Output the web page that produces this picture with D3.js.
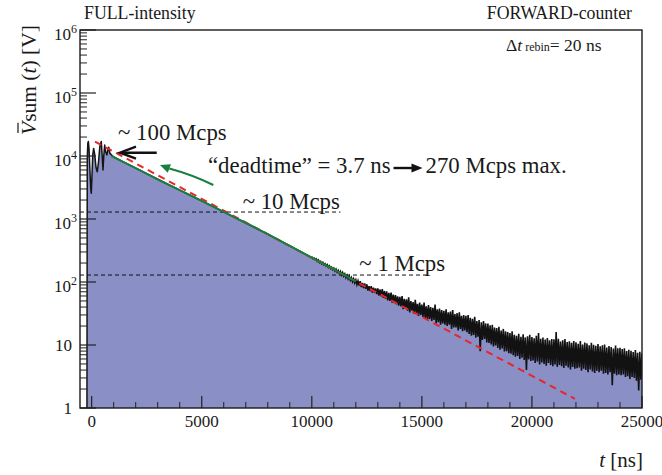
<!DOCTYPE html>
<html><head><meta charset="utf-8">
<script src="https://cdn.jsdelivr.net/npm/d3@7"></script>
<style>
body{margin:0;background:#fff}
svg{display:block}
svg text{font-family:'Liberation Serif',serif;fill:#1a1a1a}
</style>
</head><body>
<svg id="c" width="662" height="475" font-family="'Liberation Serif', serif"></svg>
<script>
// ---------------- data ----------------
// prompt peak / ringing region (t in ns, V)
const peakT = [-215, -200, -175, -150, -120, -80, -40, -18, 10, 50, 91, 140, 200, 255, 310, 370, 436, 475, 514, 550, 591, 640, 695, 735, 773, 830];
const peakV = [1, 9000, 16000, 17000, 13000, 6000, 3000, 2570, 4500, 10500, 13200, 10500, 6500, 5640, 8000, 14000, 17000, 10500, 6000, 10000, 14900, 11500, 10400, 12500, 13800, 11000];
// smooth decay region
const decayT = [900, 1000, 1500, 2000, 2500, 3000, 3500, 4000, 4500, 5000, 5500, 6000, 6500, 7000, 7500, 8000, 8500, 9000, 9500, 10000];
const decayV = [10000, 9640, 7870, 6410, 5240, 4270, 3500, 2870, 2360, 1940, 1590, 1300, 1060, 865, 705, 576, 464, 374, 302, 243];
// noisy tail: bins from 10000 ns every 100 ns, upper / lower envelope
const tailStart = 10000, tailStep = 100;
const tailHi = [
 252,240,233,224,213,205,196,189,180,172,
 166,160,153,147,141,134,128,124,117,112,
 108,104,103,97,95,92,86,86,81,79,
 79,76,77,72,71,67,68,63,62,59,
 58,60,54,53,57,50,48,52,45,47,
 44,47,41,43,40,39,44,37,38,36,
 35,37,33,34,36,31,32,33,29,30,
 29,30,27,26,28,24,25,23,24,22,
 22,20.5,21,19,18.5,19.5,17,18,16.5,16,
 15.5,16.5,14.5,14,15,13.5,14.8,13.2,13.8,14.5,
 13.4,12.8,14,15.5,12.6,13.1,12.2,12.9,11.9,12.4,
 12.3,16,12.5,11.4,11.9,12.4,11.1,11.5,10.8,11.6,
 11.0,10.5,11.6,10.2,10.9,10.6,9.9,10.8,10.1,9.7,
 10.4,9.5,9.9,10.2,9.1,9.6,9.3,8.8,9.8,8.9,
 9.0,8.6,8.9,8.0,8.4,8.1,7.7,8.3,7.5,7.8,
 7.4];
const tailLo = [
 235,226,214,204,195,187,180,171,164,157,
 150,143,136,129,124,117,112,107,101,97,
 91,88,83,80,78,73,72,68,67,64,
 61,59,56,54,51,50,47,46,44,42,
 41,37,38,35,33,35,31,32,29,30,
 28,27,25,26,24,25,22,23,21,22,
 21,20,21,18,19,19,17,18,16.5,17,
 16,15,14,14.5,13,13.5,8,12,12.5,11,
 10.8,10.2,9.5,9.8,9.0,8.4,8.8,7.9,8.0,7.4,
 7.3,6.9,6.5,6.7,6.0,6.3,5.8,4.0,5.9,5.6,
 5.7,5.2,5.5,4.9,5.3,5.0,4.7,5.2,4.8,4.6,
 4.9,4.5,4.8,4.6,4.3,4.7,4.4,4.1,4.5,4.2,
 4.3,4.4,3.9,4.2,4.0,3.7,4.1,3.8,3.6,3.9,
 3.7,3.9,3.5,3.6,3.4,3.7,2.3,3.5,3.3,3.4,
 3.3,3.4,3.1,3.2,2.9,3.1,3.0,2.7,1.9,2.8,
 2.6];
// exponential (red dashed) reference line
const fitT = [150, 21950];
const fitV = [16900, 1.4];
// deadtime-corrected fit (green)
const greenT = [900, 1500, 2000, 3000, 4000, 5000, 6000, 7000, 8000, 9000, 10000, 11000, 12000];
const greenV = [10000, 7870, 6410, 4270, 2870, 1940, 1300, 865, 576, 374, 243, 158, 102];
// rate levels (dashed black)
const rateV = [1290, 129];
const rateEndT = [11300, 15250];
const rateLabel = ["~ 10 Mcps", "~ 1 Mcps"];
const rateLabelT = [6860, 12160];
// axis ticks
const xTickValues = [0, 5000, 10000, 15000, 20000, 25000];
const xTickLabels = ["0", "5000", "10000", "15000", "20000", "25000"];
const yTickValues = [1, 10, 100, 1000, 10000, 100000, 1000000];
const yTickBase = ["1", "10", "10", "10", "10", "10", "10"];
const yTickExp = ["", "", "2", "3", "4", "5", "6"];

// ---------------- layout ----------------
const svg = d3.select("#c");
const x = d3.scaleLinear().domain([-530, 25000]).range([80, 642]);
const y = d3.scaleLog().domain([1, 1e6]).range([408, 30]);
const fillCol = "#8a8fc6", redCol = "#e8262a", greenCol = "#17803f";
const FF = "'Liberation Serif', serif";

svg.append("defs").append("clipPath").attr("id", "clip")
  .append("rect").attr("x", 80).attr("y", 30).attr("width", 562).attr("height", 378);
const plot = svg.append("g").attr("clip-path", "url(#clip)");

const mainPts = peakT.map((t, i) => [t, peakV[i]]).concat(decayT.slice(1).map((t, i) => [t, decayV[i + 1]]));
const tailPts = tailHi.map((h, i) => ({t: tailStart + i * tailStep, hi: h, lo: tailLo[i]}));
const fillPts = mainPts.concat(tailPts.slice(1).map(d => [d.t, Math.sqrt(d.hi * d.lo)]));

// blue fill
plot.append("path").datum(fillPts)
  .attr("d", d3.area().x(d => x(d[0])).y0(y(1)).y1(d => y(d[1])))
  .attr("fill", fillCol);

// rate level dashed lines
rateV.forEach((v, i) => {
  plot.append("line").attr("x1", x(-530)).attr("x2", x(rateEndT[i]))
    .attr("y1", y(v)).attr("y2", y(v))
    .attr("stroke", "#111").attr("stroke-width", 1).attr("stroke-dasharray", "4,3");
});

// histogram outline (prompt + decay)
plot.append("path").datum(mainPts)
  .attr("d", d3.line().x(d => x(d[0])).y(d => y(d[1])))
  .attr("fill", "none").attr("stroke", "#151515").attr("stroke-width", 1.5).attr("stroke-linejoin", "round");

// noisy tail: zig-zag between the per-bin maxima and minima
const zig = [];
tailPts.forEach(d => { zig.push([d.t, d.hi]); zig.push([d.t + tailStep / 2, d.lo]); });
plot.append("path").datum(zig)
  .attr("d", d3.line().x(d => x(d[0])).y(d => y(d[1])))
  .attr("fill", "none").attr("stroke", "#121212").attr("stroke-width", 1.6);

// red dashed exponential
plot.append("path").datum(fitT.map((t, i) => [t, fitV[i]]))
  .attr("d", d3.line().x(d => x(d[0])).y(d => y(d[1])))
  .attr("fill", "none").attr("stroke", redCol).attr("stroke-width", 2).attr("stroke-dasharray", "7,5");

// green fit
plot.append("path").datum(greenT.map((t, i) => [t, greenV[i]]))
  .attr("d", d3.line().curve(d3.curveMonotoneX).x(d => x(d[0])).y(d => y(d[1])))
  .attr("fill", "none").attr("stroke", greenCol).attr("stroke-width", 2);

// ---------------- axes ----------------
const yMinor = [];
for (let d = 1; d < 1e6; d *= 10) for (let m = 2; m <= 9; m++) yMinor.push(d * m);
const xMinor = d3.range(0, 25001, 1000).filter(v => v % 5000 !== 0);

const axG = svg.append("g").attr("stroke", "#222");
axG.selectAll("line.ymn").data(yMinor).join("line")
  .attr("x1", 80).attr("x2", 87).attr("y1", d => y(d)).attr("y2", d => y(d)).attr("stroke-width", 1);
axG.selectAll("line.ymj").data(yTickValues).join("line")
  .attr("x1", 80).attr("x2", 96).attr("y1", d => y(d)).attr("y2", d => y(d)).attr("stroke-width", 1.2);
axG.selectAll("line.xmn").data(xMinor).join("line")
  .attr("x1", d => x(d)).attr("x2", d => x(d)).attr("y1", 408).attr("y2", 402).attr("stroke-width", 1);
axG.selectAll("line.xmj").data(xTickValues).join("line")
  .attr("x1", d => x(d)).attr("x2", d => x(d)).attr("y1", 408).attr("y2", 396).attr("stroke-width", 1.2);

// frame
svg.append("rect").attr("x", 80).attr("y", 30).attr("width", 562).attr("height", 378)
  .attr("fill", "none").attr("stroke", "#1a1a1a").attr("stroke-width", 1.4);

function txt(sel) { return sel.append("text").attr("font-family", FF); }

// x tick labels
xTickValues.forEach((v, i) => {
  txt(svg).attr("x", x(v)).attr("y", 427).attr("text-anchor", "middle")
    .attr("font-size", 17).text(xTickLabels[i]);
});

// y tick labels
yTickValues.forEach((v, i) => {
  if (yTickExp[i] === "") {
    txt(svg).attr("x", 72).attr("y", y(v) + 6).attr("text-anchor", "end")
      .attr("font-size", 17).text(yTickBase[i]);
  } else {
    const t = txt(svg).attr("x", 77).attr("y", y(v) + 9.5).attr("text-anchor", "end")
      .attr("font-size", 17);
    t.append("tspan").text(yTickBase[i]);
    t.append("tspan").attr("dy", -7).attr("font-size", 12).text(yTickExp[i]);
  }
});

// axis titles
const xt = txt(svg).attr("x", 643).attr("y", 467).attr("text-anchor", "end").attr("font-size", 21);
xt.append("tspan").attr("font-style", "italic").text("t");
xt.append("tspan").text(" [ns]");

const yg = svg.append("g").attr("transform", "translate(36,135) rotate(-90)");
const yt = txt(yg).attr("x", 0).attr("y", 0).attr("font-size", 21.5);
yt.append("tspan").attr("font-style", "italic").text("V");
yt.append("tspan").text("sum (");
yt.append("tspan").attr("font-style", "italic").text("t");
yt.append("tspan").text(") [V]");
const ext = yt.node().getExtentOfChar(0);
yg.append("line").attr("x1", ext.x + 2).attr("x2", ext.x + ext.width - 1)
  .attr("y1", ext.y + 1).attr("y2", ext.y + 1).attr("stroke", "#1a1a1a").attr("stroke-width", 1.2);

// corner labels
txt(svg).attr("x", 84).attr("y", 18.5).attr("font-size", 17.8).text("FULL-intensity");
txt(svg).attr("x", 632).attr("y", 18.5).attr("text-anchor", "end").attr("font-size", 17.8).text("FORWARD-counter");
const dt = txt(svg).attr("x", 506).attr("y", 51).attr("font-size", 17.5);
dt.append("tspan").text("Δ");
dt.append("tspan").attr("font-style", "italic").text("t");
dt.append("tspan").attr("font-size", 12).text(" rebin");
dt.append("tspan").text("= 20 ns");

// ---------------- annotations ----------------
const annSize = 22.8;
txt(svg).attr("x", x(1200)).attr("y", y(18000)).attr("font-size", annSize).text("~ 100 Mcps");

// black arrow pointing to the saturated region
const bA = {t0: 2955, t1: 1286, v: 11280};
svg.append("line").attr("x1", x(bA.t0)).attr("x2", x(bA.t1) + 1).attr("y1", y(bA.v)).attr("y2", y(bA.v))
  .attr("stroke", "#111").attr("stroke-width", 2.4);
svg.append("path")
  .attr("d", `M${x(bA.t1) + 16},${y(bA.v) - 6} L${x(bA.t1)},${y(bA.v)} L${x(bA.t1) + 16},${y(bA.v) + 6}`)
  .attr("fill", "none").attr("stroke", "#111").attr("stroke-width", 2.4).attr("stroke-linejoin", "miter");

// green arrow
const gA = {t0: 5525, v0: 3465, t1: 3104, v1: 7200};
{
  const x0 = x(gA.t0), y0 = y(gA.v0), x1 = x(gA.t1), y1 = y(gA.v1);
  const ang = Math.atan2(y1 - y0, x1 - x0);
  const hl = 10, hw = 4.5;
  const bx = x1 - hl * Math.cos(ang), by = y1 - hl * Math.sin(ang);
  const cx = (x0 + bx) / 2 + 1, cy = (y0 + by) / 2 - 2;
  svg.append("path").attr("d", `M${x0},${y0} Q${cx},${cy} ${bx},${by}`)
    .attr("fill", "none").attr("stroke", greenCol).attr("stroke-width", 2);
  svg.append("path").attr("d",
    `M${x1},${y1} L${bx + hw * Math.sin(ang)},${by - hw * Math.cos(ang)} L${bx - hw * Math.sin(ang)},${by + hw * Math.cos(ang)} Z`)
    .attr("fill", greenCol);
}

// deadtime statement
const dtx = x(5285), dty = y(5370);
const d1 = txt(svg).attr("x", dtx).attr("y", dty).attr("font-size", annSize).text("\u201Cdeadtime\u201D = 3.7 ns");
const w1 = d1.node().getComputedTextLength();
const ax0 = dtx + w1 + 3, ax1 = ax0 + 29, ay = dty - 5;
svg.append("line").attr("x1", ax0).attr("x2", ax1 - 8).attr("y1", ay).attr("y2", ay)
  .attr("stroke", "#111").attr("stroke-width", 2.4);
svg.append("path").attr("d", `M${ax1},${ay} L${ax1 - 11},${ay - 4.5} L${ax1 - 11},${ay + 4.5} Z`).attr("fill", "#111");
txt(svg).attr("x", ax1 + 3).attr("y", dty).attr("font-size", annSize).text("270 Mcps max.");

// rate labels
rateV.forEach((v, i) => {
  txt(svg).attr("x", x(rateLabelT[i])).attr("y", y(v) + (i === 0 ? -3 : -4))
    .attr("font-size", annSize).text(rateLabel[i]);
});
</script>
</body></html>
